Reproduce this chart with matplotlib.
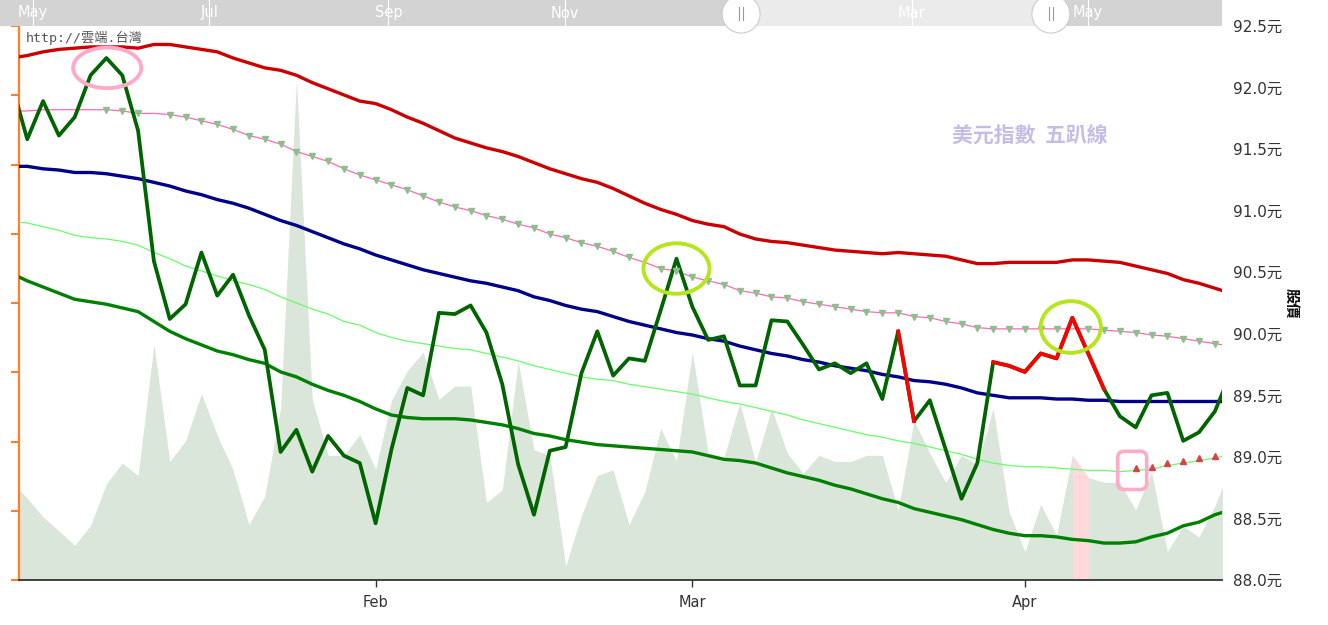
import numpy as np
import matplotlib
matplotlib.use('Agg')
import matplotlib.pyplot as plt
from matplotlib.patches import Ellipse, FancyBboxPatch

plt.rcParams['font.family'] = ['DejaVu Sans', 'Noto Sans CJK TC']

# trading-day index; -1 and 76 fall just outside the visible window
idx = np.arange(-1, 77)

price = np.array([92.04,
    91.58, 91.89, 91.61, 91.76, 92.10, 92.24, 92.10, 91.65, 90.59, 90.12,
    90.24, 90.66, 90.31, 90.48, 90.15, 89.87, 89.04, 89.22, 88.88, 89.17,
    89.01, 88.95, 88.46, 89.06, 89.56, 89.50, 90.17, 90.16, 90.23, 90.01,
    89.59, 88.94, 88.53, 89.05, 89.08, 89.68, 90.02, 89.66, 89.80, 89.78,
    90.19, 90.61, 90.22, 89.95, 89.98, 89.58, 89.58, 90.11, 90.10, 89.91,
    89.71, 89.76, 89.68, 89.76, 89.47, 90.02, 89.29, 89.46, 89.06, 88.66,
    88.95, 89.77, 89.74, 89.69, 89.84, 89.80, 90.13, 89.84, 89.55, 89.33,
    89.24, 89.50, 89.52, 89.13, 89.20, 89.37, 89.68])

upper5 = np.array([92.24,
    92.26, 92.29, 92.31, 92.32, 92.33, 92.33, 92.33, 92.32, 92.35, 92.35,
    92.33, 92.31, 92.29, 92.24, 92.20, 92.16, 92.14, 92.10, 92.04, 91.99,
    91.94, 91.89, 91.87, 91.82, 91.76, 91.71, 91.65, 91.59, 91.55, 91.51,
    91.48, 91.44, 91.39, 91.34, 91.30, 91.26, 91.23, 91.18, 91.12, 91.06,
    91.01, 90.97, 90.92, 90.89, 90.87, 90.81, 90.77, 90.75, 90.74, 90.72,
    90.70, 90.68, 90.67, 90.66, 90.65, 90.66, 90.65, 90.64, 90.63, 90.60,
    90.57, 90.57, 90.58, 90.58, 90.58, 90.58, 90.60, 90.60, 90.59, 90.58,
    90.55, 90.52, 90.49, 90.44, 90.41, 90.37, 90.33])

upper_mid = np.array([91.81,
    91.81, 91.82, 91.82, 91.82, 91.82, 91.82, 91.81, 91.79, 91.79, 91.78,
    91.76, 91.73, 91.70, 91.66, 91.61, 91.58, 91.54, 91.48, 91.44, 91.40,
    91.34, 91.29, 91.25, 91.21, 91.17, 91.12, 91.07, 91.03, 91.00, 90.96,
    90.93, 90.89, 90.86, 90.81, 90.78, 90.74, 90.71, 90.67, 90.62, 90.58,
    90.53, 90.51, 90.46, 90.43, 90.40, 90.35, 90.33, 90.30, 90.29, 90.26,
    90.24, 90.22, 90.20, 90.18, 90.17, 90.17, 90.14, 90.13, 90.10, 90.08,
    90.05, 90.04, 90.04, 90.04, 90.04, 90.04, 90.04, 90.04, 90.03, 90.02,
    90.01, 89.99, 89.98, 89.96, 89.94, 89.92, 89.90])

center = np.array([91.36,
    91.36, 91.34, 91.33, 91.31, 91.31, 91.30, 91.28, 91.26, 91.23, 91.20,
    91.16, 91.13, 91.09, 91.06, 91.02, 90.97, 90.92, 90.88, 90.83, 90.78,
    90.73, 90.69, 90.64, 90.60, 90.56, 90.52, 90.49, 90.46, 90.43, 90.41,
    90.38, 90.35, 90.30, 90.27, 90.23, 90.20, 90.18, 90.14, 90.10, 90.07,
    90.04, 90.01, 89.99, 89.96, 89.94, 89.90, 89.87, 89.84, 89.82, 89.79,
    89.77, 89.74, 89.72, 89.70, 89.67, 89.65, 89.62, 89.61, 89.59, 89.56,
    89.52, 89.50, 89.48, 89.48, 89.48, 89.47, 89.47, 89.46, 89.46, 89.45,
    89.45, 89.45, 89.45, 89.45, 89.45, 89.45, 89.45])

lower_mid = np.array([90.91,
    90.90, 90.87, 90.84, 90.80, 90.78, 90.77, 90.75, 90.72, 90.66, 90.61,
    90.55, 90.51, 90.47, 90.43, 90.40, 90.36, 90.30, 90.25, 90.20, 90.16,
    90.10, 90.07, 90.01, 89.97, 89.94, 89.92, 89.90, 89.88, 89.87, 89.84,
    89.81, 89.78, 89.74, 89.71, 89.68, 89.65, 89.63, 89.62, 89.59, 89.57,
    89.55, 89.53, 89.51, 89.48, 89.45, 89.43, 89.40, 89.37, 89.34, 89.30,
    89.27, 89.24, 89.21, 89.18, 89.16, 89.13, 89.11, 89.08, 89.05, 89.02,
    88.98, 88.95, 88.93, 88.92, 88.92, 88.91, 88.90, 88.89, 88.89, 88.88,
    88.89, 88.90, 88.93, 88.95, 88.97, 88.99, 89.02])

lower5 = np.array([90.49,
    90.43, 90.38, 90.33, 90.28, 90.26, 90.24, 90.21, 90.18, 90.10, 90.02,
    89.96, 89.91, 89.86, 89.83, 89.79, 89.76, 89.69, 89.65, 89.59, 89.54,
    89.50, 89.45, 89.39, 89.34, 89.32, 89.31, 89.31, 89.31, 89.30, 89.28,
    89.26, 89.23, 89.19, 89.17, 89.14, 89.12, 89.10, 89.09, 89.08, 89.07,
    89.06, 89.05, 89.04, 89.01, 88.98, 88.97, 88.95, 88.91, 88.87, 88.84,
    88.81, 88.77, 88.74, 88.70, 88.66, 88.63, 88.58, 88.55, 88.52, 88.49,
    88.45, 88.41, 88.38, 88.36, 88.36, 88.35, 88.33, 88.32, 88.30, 88.30,
    88.31, 88.35, 88.38, 88.44, 88.47, 88.53, 88.57])

volume = np.array([1.43,
    1.18, 0.91, 0.71, 0.50, 0.79, 1.39, 1.69, 1.51, 3.40, 1.71,
    2.01, 2.69, 2.09, 1.59, 0.80, 1.21, 2.48, 7.23, 2.61, 1.80,
    1.80, 2.10, 1.60, 2.59, 3.02, 3.29, 2.61, 2.80, 2.80, 1.12,
    1.30, 3.16, 1.88, 1.80, 0.20, 0.93, 1.51, 1.59, 0.80, 1.27,
    2.19, 1.72, 3.29, 1.83, 1.77, 2.56, 1.69, 2.48, 1.83, 1.54,
    1.80, 1.71, 1.71, 1.80, 1.80, 1.01, 2.30, 1.83, 1.41, 1.80,
    1.67, 2.48, 0.99, 0.41, 1.09, 0.65, 1.80, 1.48, 1.41, 1.41,
    1.01, 1.56, 0.41, 0.78, 0.62, 1.07, 1.64])

red_spans = [(55, 56), (61, 68)]
sell_marks = [5, 6, 7] + list(range(9, 39)) + list(range(40, 66)) + list(range(67, 76))
buy_marks = list(range(70, 76))
vol_pink_span = (66, 67)

month_pos = [22, 42, 63]
month_names = ['Feb', 'Mar', 'Apr']
price_ticks = np.arange(88.0, 92.51, 0.5)

nav_days = [0, 61, 123, 184, 304, 365]
nav_names = ['May', 'Jul', 'Sep', 'Nov', 'Mar', 'May']
nav_window = (245.0, 352.2)


def at(arr, i):
    return arr[i + 1]


W, H = 1328, 625
L, R, T, B = 19, 1222, 26, 580
fig = plt.figure(figsize=(W / 100, H / 100), dpi=100)
axv = fig.add_axes([L / W, 1 - B / H, (R - L) / W, (B - T) / H])
ax = axv.twinx()

# volume area (left, unlabeled axis)
axv.fill_between(idx, volume, color='#d9e6d9', lw=0)
m = (idx >= vol_pink_span[0]) & (idx <= vol_pink_span[1])
axv.fill_between(idx[m], volume[m], color='#ffd9dc', lw=0)
axv.set_ylim(0, 8)
axv.set_yticks(range(9))
axv.set_yticklabels([])
axv.tick_params(axis='y', colors='#ff7f27', length=6, width=1.5, direction='out')
axv.spines['left'].set_color('#ff7f27')
axv.spines['left'].set_linewidth(1.6)
axv.spines['right'].set_visible(False)
axv.spines['top'].set_visible(False)
axv.spines['bottom'].set_color('#333333')
axv.spines['bottom'].set_linewidth(1.3)
axv.set_xlim(-0.52, 75.45)
axv.set_xticks(month_pos)
axv.set_xticklabels(month_names)
axv.tick_params(axis='x', colors='#333333', length=5, width=1, pad=6, labelsize=10.5)

# price lines
ax.plot(idx, upper5, color='#cc0000', lw=2.4, zorder=3)
ax.plot(idx, upper_mid, color='#ff69b4', lw=0.9, zorder=3)
ax.plot(idx, center, color='#000088', lw=2.4, zorder=3)
ax.plot(idx, lower_mid, color='#66ff66', lw=0.9, zorder=3)
ax.plot(idx, lower5, color='#008000', lw=2.4, zorder=3)
ax.plot(idx, price, color='#006400', lw=2.7, zorder=4)
for a, b in red_spans:
    seg = (idx >= a) & (idx <= b)
    ax.plot(idx[seg], price[seg], color='#ff0000', lw=2.7, zorder=5)

sm = np.array(sell_marks)
ax.plot(sm, upper_mid[sm + 1], 'v', color='#8cbf8c', ms=5, ls='none', zorder=4)
bm = np.array(buy_marks)
ax.plot(bm, lower_mid[bm + 1] + 0.02, '^', color='#d64545', ms=5, ls='none', zorder=4)

# highlight marks
ax.add_patch(Ellipse((5.05, at(price, 5) - 0.08), 4.3, 0.33, fill=False,
                     ec='#ffaac8', lw=2.8, zorder=6))
ax.add_patch(Ellipse((41, at(price, 41) - 0.08), 4.17, 0.41, fill=False,
                     ec='#b5e61d', lw=2.8, zorder=6))
ax.add_patch(Ellipse((65.9, at(price, 66) - 0.075), 3.8, 0.42, fill=False,
                     ec='#b5e61d', lw=2.8, zorder=6))
asp = 15.83 / 123.1
ax.add_patch(FancyBboxPatch((69.78 - 0.915, at(lower_mid, 70) - 0.155), 1.83, 0.31,
                            boxstyle='round,pad=0,rounding_size=0.4',
                            mutation_aspect=asp, fill=False, ec='#ffaac8',
                            lw=2.6, zorder=6))

ax.set_xlim(-0.52, 75.45)
ax.set_ylim(88.0, 92.5)
ax.set_yticks(price_ticks)
ax.set_yticklabels([f'{v:.1f}元' for v in price_ticks])
ax.tick_params(axis='y', length=0, pad=8, labelsize=11, colors='#333333')
for s in ax.spines.values():
    s.set_visible(False)
ax.set_ylabel('股價', rotation=-90, fontsize=11, fontweight='bold', color='#111111')
ax.yaxis.set_label_coords(1.064, 0.5)

ax.text(0.006, 0.978, 'http://雲端.台灣', transform=ax.transAxes, ha='left', va='center',
        fontsize=9.5, color='#555555', family=['DejaVu Sans Mono', 'Noto Sans CJK TC'])
ax.text(0.84, 0.803, '美元指數  五趴線', transform=ax.transAxes, ha='center', va='center',
        fontsize=15, fontweight='bold', color='#c5bde6', family=['Noto Sans CJK TC'])

# navigator strip on top
nav = fig.add_axes([0, 1 - T / H, R / W, T / H])
nav.set_zorder(10)
nav.set_xlim(-11.4, 411.4)
nav.set_ylim(0, 1)
nav.axis('off')
nav.axvspan(-11.4, 411.4, color='#d3d3d3', lw=0)
nav.axvspan(*nav_window, color='#ebebeb', lw=0)
for d, name in zip(nav_days, nav_names):
    nav.axvline(d, color='white', lw=0.8)
    nav.text(d, 0.5, name, color='white', ha='center', va='center', fontsize=10.5)
rx, ry = 19 / 2.89, 19 / 26
for h in nav_window:
    nav.add_patch(Ellipse((h, 0.46), 2 * rx, 2 * ry, fc='white', ec='#cccccc',
                          lw=0.8, clip_on=False, zorder=5))
    for dx in (-0.6, 0.6):
        nav.plot([h + dx, h + dx], [0.22, 0.72], color='#999999', lw=0.8,
                 clip_on=False, zorder=6)

fig.savefig('out.png', dpi=100)
